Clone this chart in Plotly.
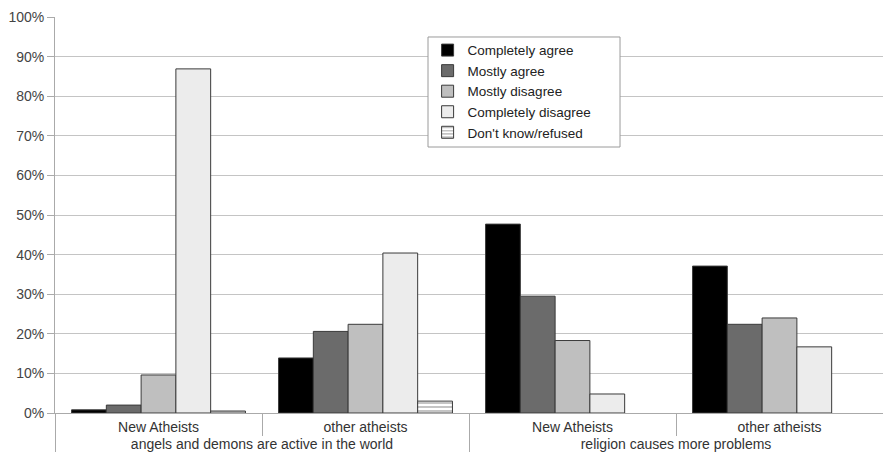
import plotly.graph_objects as go

# Two-level x categories: statement (outer) and group (inner)
statements = ["angels and demons are active in the world"] * 2 + ["religion causes more problems"] * 2
groups = ["New Atheists", "other atheists", "New Atheists", "other atheists"]

# Share of respondents (%) per answer
completely_agree = [0.8, 13.9, 47.7, 37.1]
mostly_agree = [2.0, 20.6, 29.5, 22.4]
mostly_disagree = [9.6, 22.4, 18.3, 24.0]
completely_disagree = [86.9, 40.4, 4.8, 16.7]
dont_know = [0.5, 3.0, None, None]

series = [
    ("Completely agree", completely_agree, "#000000", None),
    ("Mostly agree", mostly_agree, "#6b6b6b", None),
    ("Mostly disagree", mostly_disagree, "#bfbfbf", None),
    ("Completely disagree", completely_disagree, "#ececec", None),
    ("Don't know/refused", dont_know, "#ffffff", "-"),
]

fig = go.Figure()
for name, vals, color, shape in series:
    marker = dict(color=color, line=dict(color="#3a3a3a", width=1))
    if shape:
        marker["pattern"] = dict(shape=shape, fgcolor="#3a3a3a", bgcolor="#ffffff",
                                 size=4, solidity=0.3)
    fig.add_trace(go.Bar(name=name, x=[statements, groups], y=vals, marker=marker))

# White framed box behind the legend entries
fig.add_shape(type="rect", xref="paper", yref="paper",
              x0=0.4505, x1=0.6824, y0=0.6717, y1=0.9495,
              fillcolor="white", line=dict(color="#9a9a9a", width=1), layer="above")

fig.update_layout(
    width=883, height=454,
    margin=dict(l=55, r=0, t=17, b=41),
    paper_bgcolor="white", plot_bgcolor="white",
    barmode="group", bargap=0.16, bargroupgap=0,
    font=dict(family="Liberation Sans, Arial, sans-serif", size=14, color="#333333"),
    legend=dict(
        x=0.45, y=0.955, xanchor="left", yanchor="top",
        bgcolor="rgba(0,0,0,0)", borderwidth=0,
        font=dict(size=13.5, color="#222222"),
        itemwidth=30, tracegroupgap=0,
    ),
    showlegend=True,
)
fig.update_xaxes(
    type="multicategory",
    showline=True, linecolor="#aaaaaa", linewidth=1,
    showgrid=False,
    ticks="outside", tickson="boundaries", ticklen=22, tickcolor="#aaaaaa",
    showdividers=True, dividercolor="#aaaaaa", dividerwidth=1,
    tickfont=dict(size=14, color="#333333"),
    ticklabelstandoff=1,
)
fig.update_yaxes(
    range=[0, 100], dtick=10, ticksuffix="%",
    showgrid=True, gridcolor="#c4c4c4", gridwidth=1,
    showline=True, linecolor="#aaaaaa", linewidth=1,
    zeroline=False,
    tickfont=dict(size=14, color="#444444"),
    ticks="outside", ticklen=7, tickcolor="#aaaaaa",
)

fig.write_html("out.html")
